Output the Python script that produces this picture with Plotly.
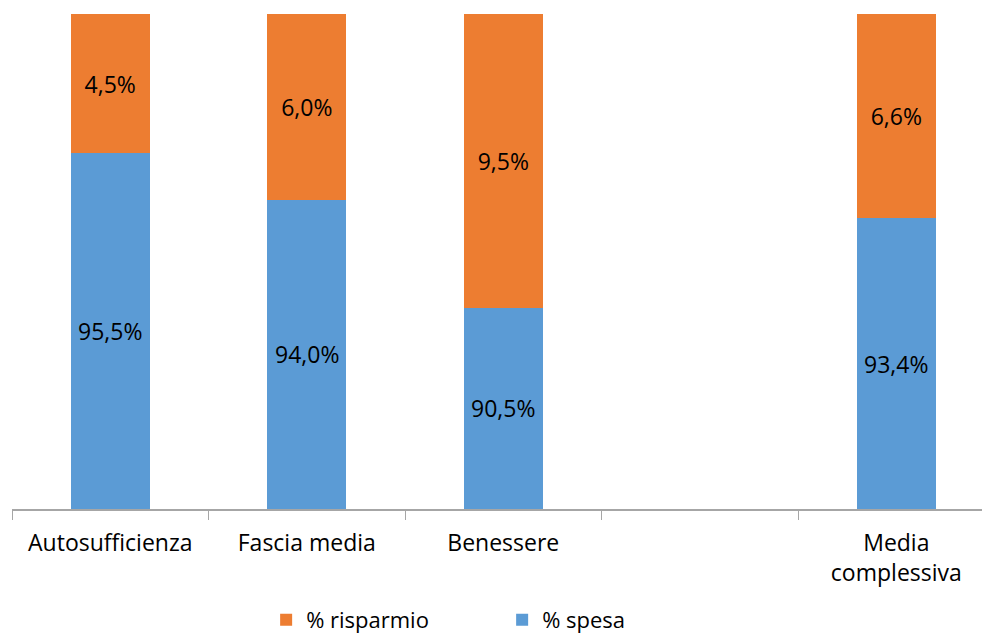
import plotly.graph_objects as go

categories = ["Autosufficienza", "Fascia media", "Benessere", " ", "Media<br>complessiva"]
spesa = [95.5, 94.0, 90.5, None, 93.4]
risparmio = [4.5, 6.0, 9.5, None, 6.6]
y_min, y_max = 84, 100

def fmt(v):
    return "" if v is None else f"{v:.1f}%".replace(".", ",")

FONT = "Open Sans"
blue = "#5B9BD5"
orange = "#ED7D31"

fig = go.Figure()
fig.add_trace(go.Bar(
    x=categories, y=spesa, name="% spesa", marker_color=blue,
    marker_line_width=0, textposition="none",
))
fig.add_trace(go.Bar(
    x=categories, y=risparmio, name="% risparmio", marker_color=orange,
    marker_line_width=0,
    text=[fmt(v) for v in risparmio], textposition="inside", insidetextanchor="middle",
    textfont=dict(color="black", size=23, family=FONT), constraintext="none",
))

# labels for the blue segments, centred in the visible part of each bar
for c, v in zip(categories, spesa):
    if v is None:
        continue
    fig.add_annotation(x=c, y=(y_min + v) / 2, text=fmt(v), showarrow=False,
                       font=dict(color="black", size=23, family=FONT))

fig.update_layout(
    width=982, height=639,
    margin=dict(l=12, r=0, t=14, b=130, autoexpand=False),
    barmode="stack", bargap=0.6,
    plot_bgcolor="white", paper_bgcolor="white",
    font=dict(family=FONT, size=23, color="black"),
    showlegend=True,
    legend=dict(orientation="h", x=0.262, xanchor="left", y=-0.224, yanchor="middle",
                traceorder="reversed", font=dict(size=22, family=FONT),
                entrywidth=191, entrywidthmode="pixels"),
    xaxis=dict(type="category", range=[-0.5, 4.436], showline=True, linecolor="#A6A6A6",
               linewidth=1.5, ticks="outside", tickson="boundaries", ticklen=9,
               tickcolor="#A6A6A6", showgrid=False, ticklabelstandoff=13,
               automargin=False, tickfont=dict(size=23, color="black")),
    yaxis=dict(range=[y_min, y_max], visible=False, showgrid=False, automargin=False),
)

fig.write_html("out.html")
